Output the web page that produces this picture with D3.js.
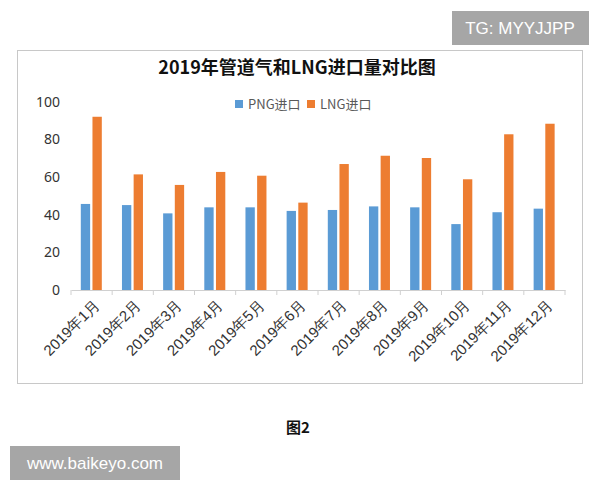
<!DOCTYPE html>
<html>
<head>
<meta charset="utf-8">
<script src="https://cdn.jsdelivr.net/npm/d3@7"></script>
<style>
  body { margin: 0; background: #fff; }
  svg { display: block; font-family: "Noto Sans CJK SC", "Noto Sans", sans-serif; }
</style>
</head>
<body>
<svg id="chart" width="600" height="480"></svg>
<script>
// data
var months = ["2019年1月", "2019年2月", "2019年3月", "2019年4月", "2019年5月", "2019年6月",
              "2019年7月", "2019年8月", "2019年9月", "2019年10月", "2019年11月", "2019年12月"];
var seriesNames = ["PNG进口", "LNG进口"];
var pngValues = [45.7, 45.1, 40.7, 43.9, 43.9, 42.0, 42.5, 44.4, 43.9, 35.0, 41.3, 43.2];
var lngValues = [92.0, 61.4, 55.8, 62.7, 60.7, 46.4, 66.9, 71.3, 70.1, 58.8, 82.7, 88.3];
var yTicks = [0, 20, 40, 60, 80, 100];
var colors = ["#5b9bd5", "#ed7d31"];

var rows = months.map(function(m, i) {
  return { month: m, values: [pngValues[i], lngValues[i]] };
});

var svg = d3.select("#chart");

// chart frame
svg.append("rect")
  .attr("x", 17.5).attr("y", 50.5)
  .attr("width", 565).attr("height", 333)
  .attr("fill", "#fff")
  .attr("stroke", "#c8c8c8");

// title
svg.append("text")
  .attr("x", 297).attr("y", 74)
  .attr("text-anchor", "middle")
  .attr("font-size", 18)
  .attr("font-weight", "bold")
  .attr("fill", "#111")
  .text("2019年管道气和LNG进口量对比图");

var x = d3.scaleBand()
  .domain(months)
  .range([71, 565]);

var xSub = d3.scaleBand()
  .domain([0, 1])
  .range([9.8, 30.8])
  .paddingInner(0.2);

var y = d3.scaleLinear()
  .domain([0, 100])
  .range([290, 101.7]);

// y labels (no axis line)
var yAxis = d3.axisLeft(y).tickValues(yTicks).tickSize(0).tickPadding(0);
var yg = svg.append("g")
  .attr("transform", "translate(60,0)")
  .call(yAxis);
yg.select(".domain").remove();
yg.selectAll("text")
  .attr("font-size", 14)
  .attr("fill", "#333")
  .style("font-family", "'Noto Sans', sans-serif");

// bars
var groups = svg.append("g").selectAll("g")
  .data(rows)
  .enter().append("g")
  .attr("transform", function(d) { return "translate(" + x(d.month) + ",0)"; });

groups.selectAll("rect")
  .data(function(d) { return d.values; })
  .enter().append("rect")
  .attr("x", function(d, i) { return xSub(i); })
  .attr("width", xSub.bandwidth())
  .attr("y", function(d) { return y(d); })
  .attr("height", function(d) { return y(0) - y(d); })
  .attr("fill", function(d, i) { return colors[i]; });

// x axis
var xAxis = d3.axisBottom(x).tickSize(0).tickPadding(0);
var xg = svg.append("g")
  .attr("transform", "translate(0,290)")
  .call(xAxis);
xg.select(".domain").attr("stroke", "#d0d0d0");
xg.selectAll(".tick line").remove();
// boundary ticks
xg.selectAll(".bound")
  .data(months.concat(["end"]))
  .enter().append("line")
  .attr("x1", function(d, i) { return 71 + i * x.step(); })
  .attr("x2", function(d, i) { return 71 + i * x.step(); })
  .attr("y1", 0).attr("y2", 5)
  .attr("stroke", "#d0d0d0");
xg.selectAll(".tick text")
  .attr("font-size", 15)
  .attr("fill", "#333")
  .attr("text-anchor", "end")
  .attr("dy", 0)
  .attr("transform", "translate(9,16) rotate(-45)");

// legend
var legend = svg.append("g").attr("transform", "translate(235,104)");
var legendX = [0, 72];
seriesNames.forEach(function(name, i) {
  legend.append("rect")
    .attr("x", legendX[i]).attr("y", -4)
    .attr("width", 8).attr("height", 8)
    .attr("fill", colors[i]);
  legend.append("text")
    .attr("x", legendX[i] + 13).attr("y", 5)
    .attr("font-size", 13)
    .attr("fill", "#595959")
    .text(name);
});

// caption
svg.append("text")
  .attr("x", 298).attr("y", 433)
  .attr("text-anchor", "middle")
  .attr("font-size", 15)
  .attr("font-weight", "bold")
  .attr("fill", "#111")
  .text("图2");

// watermark boxes
svg.append("rect")
  .attr("x", 452).attr("y", 11).attr("width", 137).attr("height", 34)
  .attr("fill", "#a6a6a6");
svg.append("text")
  .attr("x", 520).attr("y", 34)
  .attr("text-anchor", "middle")
  .attr("font-size", 17)
  .attr("fill", "#fff")
  .style("font-family", "'Liberation Sans', Arial, sans-serif")
  .text("TG: MYYJJPP");

svg.append("rect")
  .attr("x", 10).attr("y", 446).attr("width", 170).attr("height", 34)
  .attr("fill", "#a6a6a6");
svg.append("text")
  .attr("x", 95).attr("y", 469)
  .attr("text-anchor", "middle")
  .attr("font-size", 17)
  .attr("fill", "#fff")
  .style("font-family", "'Liberation Sans', Arial, sans-serif")
  .text("www.baikeyo.com");
</script>
</body>
</html>
